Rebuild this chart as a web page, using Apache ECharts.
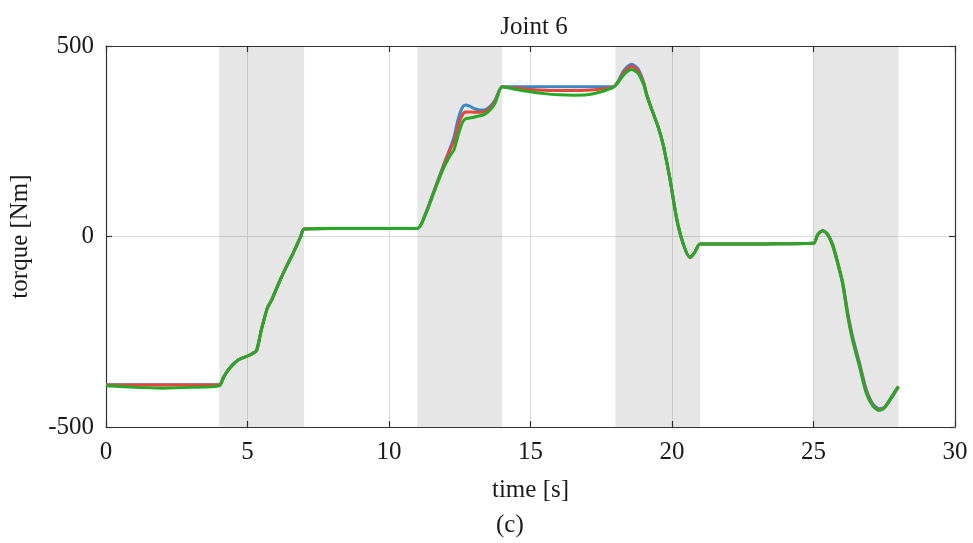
<!DOCTYPE html>
<html>
<head>
<meta charset="utf-8">
<script src="https://cdn.jsdelivr.net/npm/echarts@6/dist/echarts.min.js"></script>
<style>
  html, body { margin: 0; padding: 0; background: #ffffff; }
  #chart { width: 973px; height: 543px; }
</style>
</head>
<body>
<div id="chart"></div>
<script>
// Sample times [s] shared by all three torque traces
const time = [
  0, 1, 2, 3, 4,
  4.15, 4.32, 4.5, 4.67, 4.85, 5.02, 5.2, 5.32, 5.49, 5.7, 5.85, 6.05, 6.26, 6.45, 6.61, 6.88, 7.0,
  8, 9, 10, 11,
  11.3, 11.58, 11.9, 12.18, 12.3, 12.45, 12.6, 12.71, 12.85, 13.0, 13.2, 13.36, 13.55, 13.75, 14.0,
  14.5, 15, 15.5, 16, 16.5, 17, 17.5, 17.93,
  18.1, 18.3, 18.57, 18.8, 19.0, 19.11, 19.2, 19.34, 19.5, 19.69, 19.93, 20.17, 20.4, 20.63, 20.8, 20.99,
  22, 23, 24, 25,
  25.15, 25.33, 25.5, 25.68, 25.85, 26.03, 26.21, 26.38, 26.62, 26.86, 27.1, 27.32, 27.5, 27.68, 27.85, 28.0
];

// Joint 6 torque [Nm]
const torqueBlue = [
  -389, -389, -389, -389, -389,
  -370, -350, -335, -324, -318, -313, -306, -300, -245, -188, -167, -132, -97, -68, -44, 0, 20,
  21, 21, 21, 21,
  62, 118, 182, 236, 262, 310, 340, 345, 342, 336, 332, 332, 340, 358, 393,
  393, 393, 393, 393, 393, 393, 393, 393,
  408, 436, 452, 440, 405, 372, 352, 322, 290, 240, 150, 45, -20, -55, -42, -20,
  -20, -20, -19, -18,
  5, 15, 6, -22, -66, -120, -200, -262, -330, -400, -440, -452, -449, -432, -413, -395
];

const torqueRed = [
  -390, -390, -390, -390, -390,
  -370, -350, -335, -324, -318, -313, -306, -300, -245, -188, -167, -132, -97, -68, -44, 0, 20,
  21, 21, 21, 21,
  61, 116, 180, 231, 248, 292, 320, 327, 327, 326, 326, 327, 336, 355, 393,
  389, 386, 384, 383, 383, 384, 387, 392,
  406, 431, 447, 435, 402, 371, 351, 322, 290, 240, 150, 45, -20, -55, -42, -20,
  -20, -20, -19, -18,
  5, 15, 5, -23, -68, -122, -205, -267, -335, -405, -443, -455, -450, -431, -411, -394
];

const torqueGreen = [
  -392, -396, -398, -396, -392,
  -370, -350, -335, -324, -318, -313, -306, -300, -245, -188, -167, -132, -97, -68, -44, 0, 20,
  21, 21, 21, 21,
  60, 114, 175, 215, 228, 268, 300, 309, 311, 313, 317, 320, 330, 350, 393,
  386, 380, 375, 372, 371, 372, 380, 392,
  405, 425, 438, 428, 398, 370, 350, 322, 290, 240, 150, 45, -20, -55, -42, -20,
  -20, -20, -19, -18,
  5, 15, 5, -25, -70, -125, -210, -272, -340, -410, -445, -457, -450, -430, -410, -393
];

// Shaded time windows [s]
const shadeBands = [[4, 7], [11, 14], [18, 21], [25, 28]];

// Axis ticks
const xTicks = [0, 5, 10, 15, 20, 25, 30];
const yTicks = [-500, 0, 500];

const seriesColors = ['#3a87c6', '#e6453a', '#27a827'];
const FONT = '"Liberation Serif", "DejaVu Serif", serif';
const AXIS_COLOR = '#333333';
const TEXT_COLOR = '#1a1a1a';

function pairs(values) {
  return time.map((t, i) => [t, values[i]]);
}

const chart = echarts.init(document.getElementById('chart'), null, { renderer: 'canvas' });

const axisCommon = {
  type: 'value',
  axisLine: { show: true, onZero: false, lineStyle: { color: AXIS_COLOR, width: 1.2 } },
  axisTick: { show: true, inside: true, length: 6, lineStyle: { color: AXIS_COLOR, width: 1.2 } }
};

const option = {
  backgroundColor: '#ffffff',
  animation: false,
  title: {
    text: 'Joint 6',
    left: 529,
    top: 10,
    textAlign: 'center',
    textStyle: { fontFamily: FONT, fontWeight: 'normal', fontSize: 25, color: TEXT_COLOR }
  },
  grid: { left: 104, right: 18, top: 46, bottom: 116, containLabel: false },
  xAxis: [
    Object.assign({}, axisCommon, {
      position: 'bottom',
      min: xTicks[0], max: xTicks[xTicks.length - 1], interval: 5,
      name: 'time [s]',
      nameLocation: 'middle',
      nameGap: 51,
      nameTextStyle: { fontFamily: FONT, fontSize: 25, color: TEXT_COLOR },
      axisLabel: { margin: 13, fontFamily: FONT, fontSize: 25, color: TEXT_COLOR },
      splitLine: { show: true, lineStyle: { color: '#dcdcdc', width: 1 } }
    }),
    Object.assign({}, axisCommon, {
      position: 'top',
      min: xTicks[0], max: xTicks[xTicks.length - 1], interval: 5,
      axisLabel: { show: false },
      splitLine: { show: false }
    })
  ],
  yAxis: [
    Object.assign({}, axisCommon, {
      position: 'left',
      min: yTicks[0], max: yTicks[yTicks.length - 1], interval: 500,
      name: 'torque [Nm]',
      nameLocation: 'middle',
      nameGap: 73,
      nameRotate: 90,
      nameTextStyle: { fontFamily: FONT, fontSize: 25, color: TEXT_COLOR },
      axisLabel: { margin: 12, fontFamily: FONT, fontSize: 25, color: TEXT_COLOR },
      splitLine: { show: true, lineStyle: { color: '#dcdcdc', width: 1 } }
    }),
    Object.assign({}, axisCommon, {
      position: 'right',
      min: yTicks[0], max: yTicks[yTicks.length - 1], interval: 500,
      axisLabel: { show: false },
      splitLine: { show: false }
    })
  ],
  graphic: [{
    type: 'text',
    left: 496,
    top: 513,
    style: { text: '(c)', font: '25px ' + FONT, fill: TEXT_COLOR }
  }],
  series: [
    {
      type: 'line',
      name: 'blue',
      data: pairs(torqueBlue),
      showSymbol: false,
      smooth: 0.25,
      lineStyle: { color: seriesColors[0], width: 3 },
      z: 3,
      markArea: {
        silent: true,
        itemStyle: { color: 'rgba(0,0,0,0.098)' },
        data: shadeBands.map(b => [{ xAxis: b[0] }, { xAxis: b[1] }])
      }
    },
    {
      type: 'line',
      name: 'red',
      data: pairs(torqueRed),
      showSymbol: false,
      smooth: 0.25,
      lineStyle: { color: seriesColors[1], width: 3 },
      z: 4
    },
    {
      type: 'line',
      name: 'green',
      data: pairs(torqueGreen),
      showSymbol: false,
      smooth: 0.25,
      lineStyle: { color: seriesColors[2], width: 3 },
      z: 5
    }
  ]
};

chart.setOption(option);
</script>
</body>
</html>
